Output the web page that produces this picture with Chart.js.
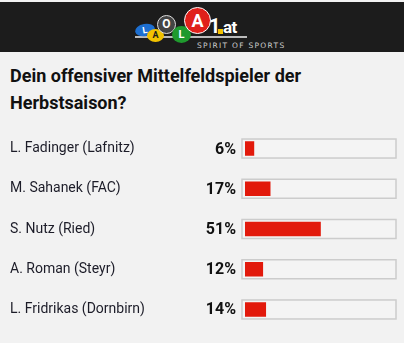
<!DOCTYPE html>
<html>
<head>
<meta charset="utf-8">
<script src="https://cdn.jsdelivr.net/npm/chart.js@4"></script>
<style>
  body { margin: 0; width: 404px; height: 343px; background: #f2f2f2; overflow: hidden; position: relative; font-family: Roboto, sans-serif; }
  .header { position: absolute; left: 0; top: 2px; width: 404px; height: 50px; background: #1c1c1c; }
  .ball { position: absolute; border-radius: 50%; color: #fff; font-weight: bold; text-align: center; font-family: Roboto, sans-serif; }
  .title { position: absolute; left: 10px; top: 62px; font-size: 18px; font-weight: bold; line-height: 27px; color: #111; }
  #wrap { position: absolute; left: 0; top: 120px; width: 404px; height: 218px; }
</style>
</head>
<body>
<div class="header">
  <div style="position:absolute;left:135px;top:34px;width:112px;height:2px;background:#bbb;"></div>
  <div class="ball" style="left:135px;top:22px;width:20px;height:12px;background:#1d6fd1;font-size:9px;line-height:12px;transform:rotate(-10deg);">L</div>
  <div class="ball" style="left:147px;top:27px;width:17px;height:13px;background:#f2c200;color:#1c1c1c;font-size:9px;line-height:13px;">A</div>
  <div class="ball" style="left:157px;top:13px;width:19px;height:19px;background:#444;border:1px solid #ddd;box-sizing:border-box;font-size:12px;line-height:17px;">O</div>
  <div class="ball" style="left:172px;top:24px;width:19px;height:17px;background:#1f9a2e;font-size:11px;line-height:17px;">L</div>
  <div class="ball" style="left:184px;top:5px;width:27px;height:27px;background:#e0201a;border:1px solid #fff;box-sizing:border-box;font-size:18px;line-height:25px;">A</div>
  <div style="position:absolute;left:209px;top:13px;color:#fff;font-weight:bold;font-size:20px;line-height:22px;">1</div>
  <div style="position:absolute;left:218px;top:27px;width:5px;height:5px;background:#f2c200;"></div>
  <div style="position:absolute;left:223px;top:15px;color:#fff;font-weight:bold;font-size:17px;line-height:20px;letter-spacing:-0.5px;">at</div>
  <div style="position:absolute;left:197px;top:39px;color:#ccc;font-size:7.5px;line-height:9px;letter-spacing:1.3px;font-family:'DejaVu Sans',sans-serif;">SPIRIT OF SPORTS</div>
</div>
<div class="title">Dein offensiver Mittelfeldspieler der<br>Herbstsaison?</div>
<div id="wrap"><canvas id="myChart"></canvas></div>
<script>
const players = ["L. Fadinger (Lafnitz)", "M. Sahanek (FAC)", "S. Nutz (Ried)", "A. Roman (Steyr)", "L. Fridrikas (Dornbirn)"];
const votes = [6, 17, 51, 12, 14];

// grey box behind every bar, plus the percent text
const trackPlugin = {
  id: "track",
  beforeDatasetsDraw(chart) {
    const ctx = chart.ctx;
    const x = chart.scales.x;
    const y = chart.scales.y;
    ctx.save();
    ctx.strokeStyle = "#cccccc";
    ctx.lineWidth = 1.5;
    ctx.fillStyle = "#f4f4f4";
    players.forEach((p, i) => {
      const cy = y.getPixelForValue(i);
      const left = x.getPixelForValue(0) - 3;
      const right = x.getPixelForValue(100) + 3;
      ctx.fillRect(left, cy - 9.5, right - left, 19);
      ctx.strokeRect(left, cy - 9.5, right - left, 19);
    });
    ctx.restore();
  },
  afterDatasetsDraw(chart) {
    const ctx = chart.ctx;
    const y = chart.scales.y;
    ctx.save();
    ctx.font = "bold 16px Roboto";
    ctx.fillStyle = "#111";
    ctx.textAlign = "right";
    ctx.textBaseline = "middle";
    votes.forEach((v, i) => {
      ctx.fillText(v + "%", chart.chartArea.left - 9, y.getPixelForValue(i) + 1);
    });
    ctx.restore();
  }
};

const ctx = document.getElementById("myChart").getContext("2d");
const myChart = new Chart(ctx, {
  type: "bar",
  data: {
    labels: players,
    datasets: [{
      data: votes,
      backgroundColor: "#e2190b",
      barThickness: 14,
      borderWidth: 0
    }]
  },
  options: {
    indexAxis: "y",
    responsive: true,
    maintainAspectRatio: false,
    animation: false,
    layout: { padding: { left: 10, right: 11, top: 0, bottom: 0 } },
    plugins: { legend: { display: false }, tooltip: { enabled: false } },
    scales: {
      x: { display: false, min: 0, max: 100 },
      y: {
        grid: { display: false },
        border: { display: false },
        afterFit: (scale) => { scale.width = 235; },
        ticks: {
          crossAlign: "far",
          padding: 0,
          color: "#1c1c28",
          font: { family: "Roboto", size: 14 }
        }
      }
    }
  },
  plugins: [trackPlugin]
});
</script>
</body>
</html>
